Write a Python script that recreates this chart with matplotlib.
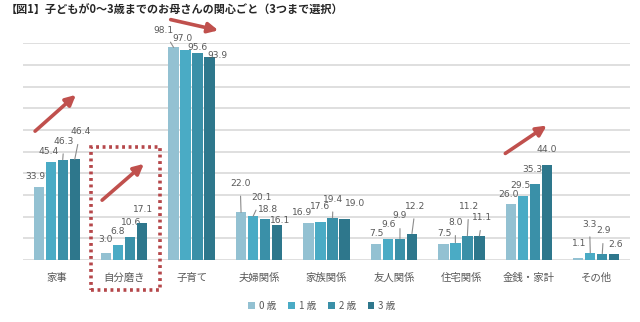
import numpy as np
import matplotlib
matplotlib.use("Agg")
import matplotlib.pyplot as plt
from matplotlib.patches import Rectangle, FancyArrowPatch

plt.rcParams['font.family'] = ['Noto Sans CJK JP', 'DejaVu Sans']

# ─── data ─────────────────────────────────────────────────────────────────────
categories = ['家事', '自分磨き', '子育て', '夫婦関係', '家族関係',
              '友人関係', '住宅関係', '金銭・家計', 'その他']
ages = ['0 歳', '1 歳', '2 歳', '3 歳']
age0 = [33.9, 3.0, 98.1, 22.0, 16.9, 7.5, 7.5, 26.0, 1.1]
age1 = [45.4, 6.8, 97.0, 20.1, 17.6, 9.6, 8.0, 29.5, 3.3]
age2 = [46.3, 10.6, 95.6, 18.8, 19.4, 9.9, 11.2, 35.3, 2.9]
age3 = [46.4, 17.1, 93.9, 16.1, 19.0, 12.2, 11.1, 44.0, 2.6]
series = [age0, age1, age2, age3]

# label text positions (x in group units, y in %) and which get a leader line
label_pos = [
    [(-0.32, 38.4), (0.73, 9.6), (1.58, 106.1), (2.72, 35.4), (3.64, 21.8),
     (4.74, 12.0), (5.75, 12.0), (6.70, 30.0), (7.74, 7.4)],
    [(-0.12, 50.0), (0.91, 13.1), (1.86, 102.0), (3.04, 28.7), (3.91, 24.6),
     (4.92, 16.5), (5.91, 17.2), (6.87, 34.6), (7.90, 16.6)],
    [(0.11, 54.9), (1.10, 17.2), (2.08, 98.2), (3.14, 23.5), (4.10, 28.1),
     (5.09, 20.4), (6.11, 24.6), (7.05, 41.9), (8.11, 13.5)],
    [(0.35, 59.2), (1.28, 23.5), (2.39, 94.6), (3.31, 18.1), (4.43, 26.2),
     (5.32, 24.9), (6.31, 19.5), (7.27, 50.8), (8.28, 7.2)],
]
leaders = {(0, 2), (2, 0), (3, 0), (3, 1), (4, 2), (5, 2), (5, 3),
           (6, 1), (6, 2), (6, 3), (8, 1), (8, 2), (0, 3)}

colors = ['#93C1D2', '#4AABC5', '#3A90A8', '#2E778C']
RED = '#C0504D'
GRAY = '#595959'
NUM = dict(family='DejaVu Sans', fontsize=6.6, color=GRAY)

fig = plt.figure(figsize=(6.4, 3.22), dpi=100)
ax = fig.add_axes([23 / 640, 62 / 322, 607 / 640, 216.7 / 322])

x = np.arange(len(categories))
step, width = 0.178, 0.152
for j, vals in enumerate(series):
    xs = x + (j - 1.5) * step
    ax.bar(xs, vals, width=width, color=colors[j], label=ages[j], zorder=3)
    for i, v in enumerate(vals):
        tx, ty = label_pos[j][i]
        if (i, j) in leaders:
            ax.annotate(f'{v:.1f}', xy=(xs[i], v), xytext=(tx, ty),
                        ha='center', va='center', annotation_clip=False,
                        arrowprops=dict(arrowstyle='-', color='#8C8C8C', lw=0.8,
                                        shrinkA=4, shrinkB=0), **NUM)
        else:
            ax.text(tx, ty, f'{v:.1f}', ha='center', va='center',
                    clip_on=False, **NUM)

ax.set_xlim(-0.5, len(categories) - 0.5)
ax.set_ylim(0, 100)
ax.set_yticks(np.arange(0, 101, 10))
ax.yaxis.grid(True, color='#D9D9D9', lw=1.2, zorder=0)
ax.tick_params(axis='y', length=0, labelleft=False)
ax.tick_params(axis='x', length=0, pad=9)
ax.set_xticks(x)
ax.set_xticklabels(categories, fontsize=7.5, color=GRAY)
for s in ax.spines.values():
    s.set_visible(False)

leg = fig.legend(loc='center', bbox_to_anchor=(322 / 640, 1 - 306 / 322), ncol=4,
                 frameon=False, fontsize=7, handlelength=0.7, handleheight=0.7,
                 handletextpad=0.4, columnspacing=1.2)
for t in leg.get_texts():
    t.set_color(GRAY)

# red trend arrows
def px(xp, yp):
    return (xp / 640, 1 - yp / 322)

for start, end in [((33, 133), (78, 93)), ((100, 202), (146, 162)),
                   ((168, 19), (221, 31)), ((503, 155), (549, 124))]:
    fig.add_artist(FancyArrowPatch(
        px(*start), px(*end), transform=fig.transFigure,
        arrowstyle='-|>', mutation_scale=15, lw=2.6, color=RED))

# dotted box around 自分磨き
fig.add_artist(Rectangle(px(91, 290), 69 / 640, 143 / 322, transform=fig.transFigure,
                         fill=False, edgecolor='#B5474A', lw=2.6,
                         linestyle=(0, (0.8, 1.0))))

fig.text(6 / 640, 1 - 10 / 322, '【図1】子どもが0～3歳までのお母さんの関心ごと（3つまで選択）',
         fontsize=8, fontweight='bold', color='#262626', va='center', ha='left')

fig.savefig('out.png', dpi=100, facecolor='white')
